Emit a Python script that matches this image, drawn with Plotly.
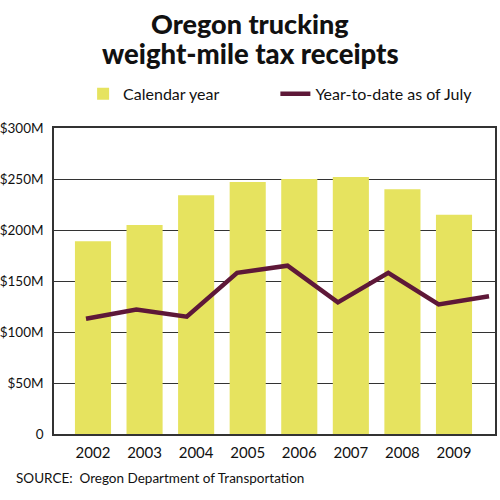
import plotly.graph_objects as go

years = ["2002", "2003", "2004", "2005", "2006", "2007", "2008", "2009"]
calendar_year = [189, 205, 234, 247, 250, 252, 240, 215]  # $M

ytd_years = ["2002", "2003", "2004", "2005", "2006", "2007", "2008", "2009", "2010"]
ytd_july = [113, 122, 115, 158, 165, 129, 158, 127, 135]  # $M

y_ticks = [0, 50, 100, 150, 200, 250, 300]
y_labels = ["0", "$50M", "$100M", "$150M", "$200M", "$250M", "$300M"]

title_lines = ["Oregon trucking", "weight-mile tax receipts"]

FONT = "Lato"
fig = go.Figure()
fig.add_trace(go.Bar(
    x=years, y=calendar_year, name="Calendar year",
    marker=dict(color="#e6e35f", line=dict(width=0)),
    xaxis="x", yaxis="y", legend="legend", showlegend=True,
))
fig.add_trace(go.Scatter(
    x=list(range(len(ytd_years))), y=ytd_july, name="Year-to-date as of July",
    mode="lines", line=dict(color="#5e1838", width=4.5),
    xaxis="x2", yaxis="y", legend="legend2", showlegend=True,
))

leg_common = dict(
    orientation="h", y=1.112, yanchor="middle",
    font=dict(family=FONT, size=16, color="#111"),
    itemwidth=30, bgcolor="rgba(0,0,0,0)",
)

fig.update_layout(
    width=500, height=500,
    showlegend=True,
    margin=dict(l=54, r=5, t=128, b=66),
    paper_bgcolor="white", plot_bgcolor="white",
    font=dict(family=FONT, color="#111", size=14),
    bargap=0.30,
    legend=dict(x=0.066, xanchor="left", **leg_common),
    legend2=dict(x=0.502, xanchor="left", **leg_common),
    xaxis=dict(
        type="category", range=[-0.756, 7.795], automargin=False,
        showgrid=False, showline=True, linecolor="#333", linewidth=1.5,
        mirror=True, ticks="", ticklabelstandoff=4,
        tickfont=dict(family=FONT, size=15, color="#111"),
    ),
    xaxis2=dict(
        overlaying="x", range=[-0.635, 8.119], visible=False,
    ),
    yaxis=dict(
        range=[0, 300], tickvals=y_ticks, ticktext=y_labels, automargin=False,
        showgrid=True, gridcolor="#333", gridwidth=1.3,
        showline=True, linecolor="#333", linewidth=1.5, mirror=True,
        ticks="", ticklabelstandoff=6,
        tickfont=dict(family=FONT, size=13.5, color="#111"),
        zeroline=False,
    ),
    annotations=[
        dict(text=title_lines[0], xref="paper", yref="paper",
             x=196 / 441, y=(434 - 23) / 306,
             xanchor="center", yanchor="middle", showarrow=False,
             font=dict(family=FONT, size=27, color="#111", weight=900)),
        dict(text=title_lines[1], xref="paper", yref="paper",
             x=196 / 441, y=(434 - 53) / 306,
             xanchor="center", yanchor="middle", showarrow=False,
             font=dict(family=FONT, size=27.5, color="#111", weight=900)),
        dict(text="SOURCE:  Oregon Department of Transportation",
             xref="paper", yref="paper", x=(14 - 54) / 441, y=(434 - 478) / 306,
             xanchor="left", yanchor="middle", showarrow=False,
             font=dict(family=FONT, size=13.5, color="#111")),
    ],
)

fig.write_html("out.html")
